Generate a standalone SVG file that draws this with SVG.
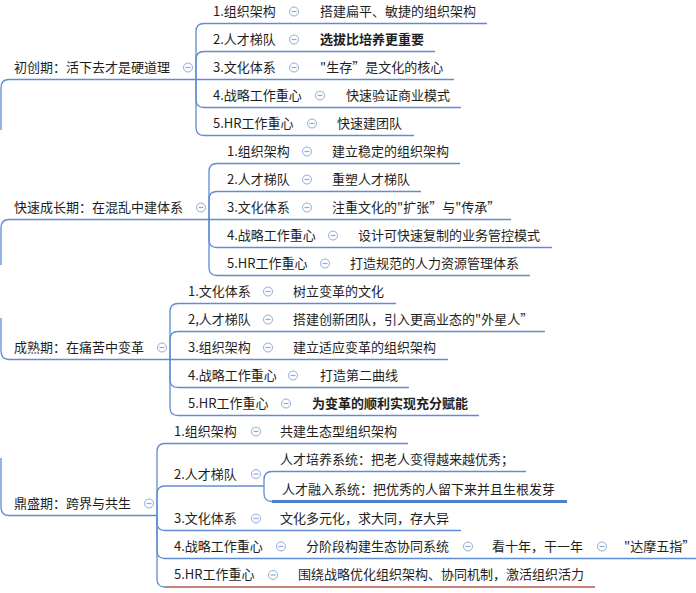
<svg xmlns="http://www.w3.org/2000/svg" xmlns:xlink="http://www.w3.org/1999/xlink" width="696" height="593" viewBox="0 0 696 593">
<style>
.l{fill:none;stroke:#5F8DD3;stroke-width:1.3}
.sel{fill:none;stroke:#4F7FCC;stroke-width:3}
.red{fill:none;stroke:#B5544C;stroke-width:1.3}
text{font-family:"Noto Sans CJK SC","Microsoft YaHei","Noto Sans",sans-serif;font-size:13px;fill:#1e1e1e}
.b{font-weight:bold}
</style>
<defs>
<g id="m"><circle r="4.5" fill="#fff" stroke="#8FA9D8" stroke-width="1"/><line x1="-2.5" x2="2.5" y1="0" y2="0" stroke="#8FA9D8" stroke-width="1.2"/></g>
</defs>
<rect width="696" height="593" fill="#fff"/>
<g id="connectors">
<path class="l" d="M 1 130 V 88 Q 1 79.5 9 79.5 H 196"/>
<path class="l" d="M 196 79.5 V 31.5 Q 196 23.5 204 23.5 H 487"/>
<path class="l" d="M 196 79.5 V 59.5 Q 196 51.5 204 51.5 H 435"/>
<path class="l" d="M 196 79.5 H 454"/>
<path class="l" d="M 196 79.5 V 99.5 Q 196 107.5 204 107.5 H 461"/>
<path class="l" d="M 196 79.5 V 127.5 Q 196 135.5 204 135.5 H 414"/>
<path class="l" d="M 1 265 V 228 Q 1 219.5 9 219.5 H 209"/>
<path class="l" d="M 209 219.5 V 171.5 Q 209 163.5 217 163.5 H 460"/>
<path class="l" d="M 209 219.5 V 199.5 Q 209 191.5 217 191.5 H 421"/>
<path class="l" d="M 209 219.5 H 511"/>
<path class="l" d="M 209 219.5 V 239.5 Q 209 247.5 217 247.5 H 552"/>
<path class="l" d="M 209 219.5 V 267.5 Q 209 275.5 217 275.5 H 530"/>
<path class="l" d="M 1 318 V 351 Q 1 359.5 9 359.5 H 170"/>
<path class="l" d="M 170 359.5 V 311.5 Q 170 303.5 178 303.5 H 396"/>
<path class="l" d="M 170 359.5 V 339.5 Q 170 331.5 178 331.5 H 545"/>
<path class="l" d="M 170 359.5 H 448"/>
<path class="l" d="M 170 359.5 V 379.5 Q 170 387.5 178 387.5 H 409"/>
<path class="l" d="M 170 359.5 V 407.5 Q 170 415.5 178 415.5 H 479"/>
<path class="l" d="M 1 458 V 507 Q 1 515.5 9 515.5 H 157"/>
<path class="l" d="M 157 515.5 V 451.5 Q 157 443.5 165 443.5 H 408"/>
<path class="l" d="M 157 515.5 V 494 Q 157 486 165 486 H 264"/>
<path class="l" d="M 264 486 V 479.5 Q 264 471.5 272 471.5 H 526"/>
<path class="l" d="M 264 486 V 493.5 Q 264 501.5 272 501.5"/>
<path class="sel" d="M 272 501.5 H 567"/>
<path class="l" d="M 157 515.5 V 522.5 Q 157 530.5 165 530.5 H 461"/>
<path class="l" d="M 157 515.5 V 550.5 Q 157 558.5 165 558.5 H 696"/>
<path class="l" d="M 157 515.5 V 579 Q 157 587 165 587"/>
<path class="red" d="M 165 587 H 595"/>
</g>

<g id="root1"><text x="14" y="71.5">初创期：活下去才是硬道理</text><use xlink:href="#m" x="188" y="67.5"/></g>
<g id="r1c1"><text x="213" y="15.5">1.组织架构</text><use xlink:href="#m" x="294" y="11.5"/></g>
<g id="r1c1g"><text x="320" y="15.5">搭建扁平、敏捷的组织架构</text></g>
<g id="r1c2"><text x="213" y="43.5">2.人才梯队</text><use xlink:href="#m" x="294" y="39.5"/></g>
<g id="r1c2g"><text class="b" x="320" y="43.5">选拔比培养更重要</text></g>
<g id="r1c3"><text x="213" y="71.5">3.文化体系</text><use xlink:href="#m" x="294" y="67.5"/></g>
<g id="r1c3g"><text x="320" y="71.5">"生存”是文化的核心</text></g>
<g id="r1c4"><text x="213" y="99.5">4.战略工作重心</text><use xlink:href="#m" x="320" y="95.5"/></g>
<g id="r1c4g"><text x="346" y="99.5">快速验证商业模式</text></g>
<g id="r1c5"><text x="213" y="127.5">5.HR工作重心</text><use xlink:href="#m" x="312" y="123.5"/></g>
<g id="r1c5g"><text x="337" y="127.5">快速建团队</text></g>

<g id="root2"><text x="14" y="211.5">快速成长期：在混乱中建体系</text><use xlink:href="#m" x="201" y="207.5"/></g>
<g id="r2c1"><text x="227" y="155.5">1.组织架构</text><use xlink:href="#m" x="307" y="151.5"/></g>
<g id="r2c1g"><text x="332" y="155.5">建立稳定的组织架构</text></g>
<g id="r2c2"><text x="227" y="183.5">2.人才梯队</text><use xlink:href="#m" x="307" y="179.5"/></g>
<g id="r2c2g"><text x="332" y="183.5">重塑人才梯队</text></g>
<g id="r2c3"><text x="227" y="211.5">3.文化体系</text><use xlink:href="#m" x="307" y="207.5"/></g>
<g id="r2c3g"><text x="332" y="211.5">注重文化的"扩张”与"传承”</text></g>
<g id="r2c4"><text x="227" y="239.5">4.战略工作重心</text><use xlink:href="#m" x="333" y="235.5"/></g>
<g id="r2c4g"><text x="358" y="239.5">设计可快速复制的业务管控模式</text></g>
<g id="r2c5"><text x="227" y="267.5">5.HR工作重心</text><use xlink:href="#m" x="325" y="263.5"/></g>
<g id="r2c5g"><text x="350" y="267.5">打造规范的人力资源管理体系</text></g>

<g id="root3"><text x="14" y="351.5">成熟期：在痛苦中变革</text><use xlink:href="#m" x="162" y="347.5"/></g>
<g id="r3c1"><text x="188" y="295.5">1.文化体系</text><use xlink:href="#m" x="268" y="291.5"/></g>
<g id="r3c1g"><text x="293" y="295.5">树立变革的文化</text></g>
<g id="r3c2"><text x="188" y="323.5">2,人才梯队</text><use xlink:href="#m" x="268" y="319.5"/></g>
<g id="r3c2g"><text x="293" y="323.5">搭建创新团队，引入更高业态的"外星人”</text></g>
<g id="r3c3"><text x="188" y="351.5">3.组织架构</text><use xlink:href="#m" x="268" y="347.5"/></g>
<g id="r3c3g"><text x="293" y="351.5">建立适应变革的组织架构</text></g>
<g id="r3c4"><text x="188" y="379.5">4.战略工作重心</text><use xlink:href="#m" x="293" y="375.5"/></g>
<g id="r3c4g"><text x="320" y="379.5">打造第二曲线</text></g>
<g id="r3c5"><text x="188" y="407.5">5.HR工作重心</text><use xlink:href="#m" x="286" y="403.5"/></g>
<g id="r3c5g"><text class="b" x="312" y="407.5">为变革的顺利实现充分赋能</text></g>

<g id="root4"><text x="14" y="507.5">鼎盛期：跨界与共生</text><use xlink:href="#m" x="149" y="503.5"/></g>
<g id="r4c1"><text x="174" y="435.5">1.组织架构</text><use xlink:href="#m" x="256" y="431.5"/></g>
<g id="r4c1g"><text x="280" y="435.5">共建生态型组织架构</text></g>
<g id="r4c2"><text x="174" y="478.5">2.人才梯队</text><use xlink:href="#m" x="256" y="474"/></g>
<g id="r4c2g1"><text x="280" y="463.5">人才培养系统：把老人变得越来越优秀；</text></g>
<g id="r4c2g2"><text x="282" y="493.5">人才融入系统：把优秀的人留下来并且生根发芽</text></g>
<g id="r4c3"><text x="174" y="522.5">3.文化体系</text><use xlink:href="#m" x="256" y="518.5"/></g>
<g id="r4c3g"><text x="280" y="522.5">文化多元化，求大同，存大异</text></g>
<g id="r4c4"><text x="174" y="550.5">4.战略工作重心</text><use xlink:href="#m" x="281" y="546.5"/></g>
<g id="r4c4g"><text x="306" y="550.5">分阶段构建生态协同系统</text><use xlink:href="#m" x="468" y="546.5"/></g>
<g id="r4c4gg"><text x="492" y="550.5">看十年，干一年</text><use xlink:href="#m" x="602" y="546.5"/></g>
<g id="r4c4ggg"><text x="624" y="550.5">"达摩五指”</text></g>
<g id="r4c5"><text x="174" y="579">5.HR工作重心</text><use xlink:href="#m" x="273" y="575"/></g>
<g id="r4c5g"><text x="298" y="579">围绕战略优化组织架构、协同机制，激活组织活力</text></g>
</svg>
